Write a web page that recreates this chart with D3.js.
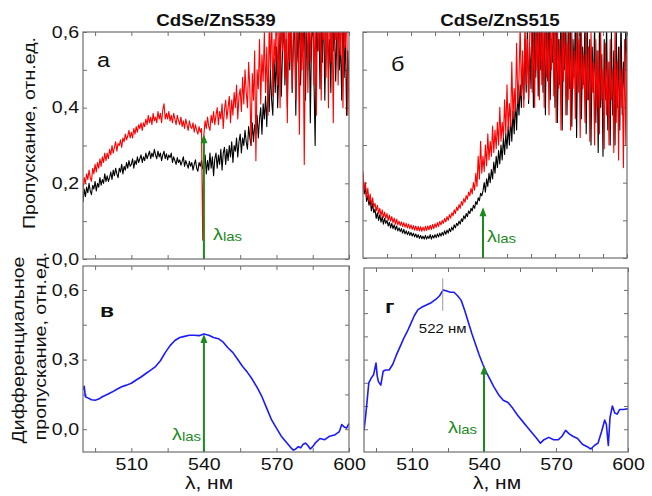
<!DOCTYPE html>
<html>
<head>
<meta charset="utf-8">
<script src="https://cdn.jsdelivr.net/npm/d3@7"></script>
<style>
  body { margin: 0; background: #fff; }
  svg { display: block; }
  text { font-family: "Liberation Sans", Arial, sans-serif; fill: #111; }
</style>
</head>
<body>
<div class="canvas"></div>
<script>
// wavelength grid of the transmission spectra: 490..600 nm, 0.5 nm step
const wavelengths = d3.range(221).map(i => 490 + i * 0.5)

// transmission, CdSe/ZnS539 (panel а); one row = 5 nm
const transA_black = [
  0.15, 0.185, 0.165, 0.19, 0.175, 0.2, 0.18, 0.17, 0.195, 0.185,
  0.205, 0.18, 0.2, 0.19, 0.215, 0.195, 0.21, 0.2, 0.225, 0.205,
  0.22, 0.205, 0.215, 0.23, 0.21, 0.235, 0.22, 0.24, 0.225, 0.215,
  0.24, 0.23, 0.25, 0.225, 0.245, 0.235, 0.255, 0.24, 0.26, 0.245,
  0.25, 0.265, 0.24, 0.26, 0.25, 0.27, 0.255, 0.265, 0.275, 0.255,
  0.27, 0.26, 0.28, 0.265, 0.275, 0.285, 0.265, 0.28, 0.27, 0.29,
  0.275, 0.265, 0.285, 0.27, 0.28, 0.26, 0.275, 0.285, 0.265, 0.278,
  0.262, 0.275, 0.268, 0.28, 0.255, 0.27, 0.26, 0.25, 0.268, 0.255,
  0.262, 0.248, 0.258, 0.27, 0.245, 0.26, 0.25, 0.24, 0.258, 0.245,
  0.255, 0.235, 0.25, 0.262, 0.24, 0.232, 0.255, 0.245, 0.26, 0.238,
  0.25, 0.275, 0.225, 0.26, 0.235, 0.28, 0.24, 0.27, 0.22, 0.265,
  0.28, 0.24, 0.275, 0.25, 0.29, 0.235, 0.28, 0.295, 0.25, 0.29,
  0.26, 0.3, 0.27, 0.31, 0.255, 0.3, 0.285, 0.32, 0.27, 0.31,
  0.33, 0.28, 0.32, 0.3, 0.34, 0.31, 0.29, 0.35, 0.32, 0.3,
  0.36, 0.31, 0.355, 0.33, 0.38, 0.32, 0.37, 0.4, 0.33, 0.41,
  0.37, 0.43, 0.35, 0.46, 0.39, 0.5, 0.42, 0.38, 0.53, 0.44,
  0.56, 0.4, 0.5, 0.6, 0.43, 0.55, 0.64, 0.46, 0.58, 0.4,
  0.62, 0.5, 0.66, 0.44, 0.57, 0.63, 0.38, 0.6, 0.52, 0.67,
  0.46, 0.62, 0.55, 0.68, 0.42, 0.6, 0.5, 0.65, 0.36, 0.58,
  0.64, 0.48, 0.3, 0.6, 0.55, 0.67, 0.45, 0.62, 0.52, 0.69,
  0.42, 0.6, 0.66, 0.5, 0.58, 0.44, 0.68, 0.55, 0.62, 0.47,
  0.6, 0.68, 0.5, 0.57, 0.42, 0.65, 0.48, 0.6, 0.38, 0.55,
  0.45
]
const transA_red = [
  0.18, 0.215, 0.2, 0.225, 0.21, 0.235, 0.215, 0.205, 0.24, 0.225,
  0.25, 0.23, 0.255, 0.24, 0.265, 0.245, 0.27, 0.255, 0.28, 0.26,
  0.28, 0.265, 0.29, 0.275, 0.3, 0.28, 0.295, 0.31, 0.285, 0.305,
  0.3, 0.315, 0.295, 0.32, 0.31, 0.33, 0.315, 0.325, 0.34, 0.32,
  0.335, 0.32, 0.345, 0.33, 0.35, 0.335, 0.355, 0.345, 0.36, 0.34,
  0.36, 0.35, 0.37, 0.355, 0.38, 0.36, 0.375, 0.355, 0.385, 0.365,
  0.375, 0.36, 0.39, 0.37, 0.385, 0.36, 0.395, 0.41, 0.37, 0.385,
  0.37, 0.39, 0.365, 0.38, 0.36, 0.385, 0.37, 0.355, 0.38, 0.365,
  0.355, 0.375, 0.35, 0.365, 0.345, 0.37, 0.355, 0.34, 0.365, 0.35,
  0.345, 0.36, 0.335, 0.355, 0.34, 0.33, 0.35, 0.335, 0.345, 0.05,
  0.33, 0.365, 0.345, 0.375, 0.35, 0.34, 0.38, 0.36, 0.39, 0.355,
  0.38, 0.4, 0.355, 0.39, 0.37, 0.41, 0.345, 0.395, 0.42, 0.37,
  0.4, 0.43, 0.36, 0.42, 0.38, 0.44, 0.4, 0.46, 0.37, 0.43,
  0.45, 0.39, 0.48, 0.41, 0.5, 0.44, 0.4, 0.52, 0.45, 0.3,
  0.49, 0.42, 0.55, 0.26, 0.5, 0.45, 0.58, 0.41, 0.54, 0.47,
  0.6, 0.44, 0.56, 0.38, 0.62, 0.5, 0.66, 0.43, 0.58, 0.52,
  0.68, 0.46, 0.6, 0.4, 0.64, 0.55, 0.7, 0.48, 0.62, 0.36,
  0.66, 0.52, 0.7, 0.45, 0.6, 0.68, 0.42, 0.64, 0.56, 0.33,
  0.7, 0.5, 0.62, 0.25, 0.58, 0.66, 0.44, 0.7, 0.52, 0.62,
  0.72, 0.46, 0.64, 0.38, 0.68, 0.55, 0.7, 0.42, 0.63, 0.58,
  0.7, 0.48, 0.66, 0.4, 0.72, 0.52, 0.64, 0.36, 0.68, 0.58,
  0.7, 0.46, 0.64, 0.54, 0.7, 0.4, 0.62, 0.56, 0.68, 0.38,
  0.5
]

// transmission, CdSe/ZnS515 (panel б)
const transB_black = [
  0.22, 0.17, 0.19, 0.15, 0.165, 0.14, 0.155, 0.125, 0.145, 0.12,
  0.13, 0.105, 0.12, 0.1, 0.115, 0.095, 0.11, 0.09, 0.105, 0.092,
  0.1, 0.085, 0.095, 0.08, 0.092, 0.078, 0.088, 0.075, 0.085, 0.072,
  0.08, 0.07, 0.078, 0.066, 0.076, 0.064, 0.072, 0.062, 0.07, 0.06,
  0.068, 0.058, 0.066, 0.056, 0.064, 0.054, 0.062, 0.052, 0.06, 0.051,
  0.058, 0.05, 0.06, 0.05, 0.058, 0.052, 0.062, 0.05, 0.06, 0.053,
  0.062, 0.054, 0.064, 0.056, 0.066, 0.058, 0.068, 0.06, 0.072, 0.063,
  0.074, 0.066, 0.078, 0.07, 0.082, 0.074, 0.088, 0.08, 0.092, 0.086,
  0.098, 0.09, 0.104, 0.097, 0.112, 0.104, 0.118, 0.11, 0.125, 0.118,
  0.132, 0.125, 0.14, 0.132, 0.15, 0.142, 0.16, 0.152, 0.172, 0.165,
  0.178, 0.2, 0.175, 0.21, 0.19, 0.225, 0.2, 0.235, 0.21, 0.255,
  0.225, 0.27, 0.24, 0.285, 0.25, 0.3, 0.26, 0.32, 0.275, 0.33,
  0.29, 0.35, 0.3, 0.37, 0.31, 0.39, 0.33, 0.42, 0.34, 0.44,
  0.38, 0.46, 0.4, 0.52, 0.42, 0.58, 0.44, 0.62, 0.41, 0.56,
  0.45, 0.66, 0.4, 0.6, 0.48, 0.68, 0.43, 0.62, 0.5, 0.66,
  0.44, 0.6, 0.38, 0.64, 0.47, 0.7, 0.42, 0.58, 0.52, 0.66,
  0.4, 0.62, 0.36, 0.58, 0.46, 0.66, 0.34, 0.6, 0.5, 0.64,
  0.38, 0.62, 0.45, 0.66, 0.35, 0.58, 0.48, 0.64, 0.32, 0.6,
  0.44, 0.62, 0.37, 0.56, 0.46, 0.64, 0.33, 0.6, 0.42, 0.58,
  0.3, 0.56, 0.44, 0.62, 0.36, 0.55, 0.28, 0.6, 0.4, 0.54,
  0.27, 0.58, 0.42, 0.62, 0.34, 0.52, 0.3, 0.6, 0.38, 0.55,
  0.3, 0.62, 0.4, 0.56, 0.34, 0.65, 0.38, 0.52, 0.44, 0.62,
  0.5
]
const transB_red = [
  0.23, 0.18, 0.2, 0.16, 0.185, 0.15, 0.17, 0.14, 0.16, 0.135,
  0.145, 0.125, 0.14, 0.118, 0.132, 0.112, 0.128, 0.108, 0.122, 0.105,
  0.118, 0.1, 0.114, 0.098, 0.11, 0.094, 0.106, 0.09, 0.103, 0.088,
  0.098, 0.086, 0.096, 0.084, 0.094, 0.082, 0.092, 0.08, 0.09, 0.078,
  0.088, 0.076, 0.086, 0.074, 0.085, 0.073, 0.084, 0.072, 0.083, 0.071,
  0.082, 0.072, 0.084, 0.073, 0.085, 0.075, 0.087, 0.076, 0.089, 0.078,
  0.091, 0.081, 0.094, 0.084, 0.097, 0.088, 0.1, 0.092, 0.105, 0.096,
  0.11, 0.1, 0.115, 0.106, 0.12, 0.112, 0.128, 0.118, 0.135, 0.126,
  0.142, 0.132, 0.15, 0.14, 0.158, 0.148, 0.166, 0.156, 0.175, 0.165,
  0.185, 0.17, 0.2, 0.18, 0.225, 0.19, 0.27, 0.21, 0.31, 0.225,
  0.27, 0.23, 0.3, 0.245, 0.33, 0.26, 0.31, 0.27, 0.35, 0.28,
  0.34, 0.29, 0.36, 0.3, 0.4, 0.31, 0.36, 0.32, 0.42, 0.33,
  0.46, 0.34, 0.41, 0.35, 0.52, 0.37, 0.45, 0.39, 0.57, 0.41,
  0.48, 0.62, 0.43, 0.55, 0.4, 0.64, 0.46, 0.58, 0.42, 0.6,
  0.68, 0.44, 0.6, 0.4, 0.66, 0.5, 0.62, 0.42, 0.7, 0.46,
  0.62, 0.4, 0.66, 0.48, 0.6, 0.38, 0.64, 0.5, 0.7, 0.43,
  0.6, 0.36, 0.64, 0.45, 0.58, 0.34, 0.62, 0.47, 0.66, 0.38,
  0.57, 0.42, 0.63, 0.34, 0.6, 0.45, 0.55, 0.37, 0.62, 0.44,
  0.58, 0.32, 0.6, 0.45, 0.54, 0.36, 0.62, 0.42, 0.56, 0.31,
  0.6, 0.44, 0.52, 0.3, 0.58, 0.4, 0.55, 0.33, 0.6, 0.42,
  0.5, 0.29, 0.57, 0.38, 0.52, 0.3, 0.58, 0.42, 0.5, 0.28,
  0.6, 0.36, 0.52, 0.26, 0.56, 0.4, 0.5, 0.24, 0.58, 0.3,
  0.55
]

// differential transmission, panel в
const diffV_wl = [490, 490.5, 491, 492, 493.5, 495, 496.5, 498, 500, 502, 504, 506, 508, 510,
  512, 514, 516, 518, 520, 522, 524, 526, 528, 530, 532, 534, 536, 538, 540, 542, 544, 546,
  548, 550, 552, 554, 556, 558, 560, 562, 564, 566, 568, 570, 572, 574, 576, 577, 578, 579,
  580, 581, 582, 583, 584, 585, 586, 588, 590, 592, 594, 596, 597, 598, 599, 600]
const diffV = [0.17, 0.185, 0.14, 0.135, 0.127, 0.125, 0.13, 0.14, 0.15, 0.16, 0.172, 0.183, 0.19, 0.198,
  0.212, 0.225, 0.24, 0.255, 0.27, 0.295, 0.33, 0.36, 0.382, 0.395, 0.40, 0.405, 0.405, 0.403, 0.41, 0.405, 0.395, 0.39,
  0.375, 0.35, 0.33, 0.30, 0.27, 0.245, 0.215, 0.18, 0.14, 0.09, 0.04, 0.005, -0.03, -0.055, -0.08, -0.09, -0.085, -0.075,
  -0.08, -0.065, -0.06, -0.07, -0.085, -0.075, -0.06, -0.04, -0.045, -0.03, -0.025, -0.01, 0.02, 0.01, 0.005, 0.025]

// differential transmission, panel г
const diffG_wl = [490, 490.5, 491, 492, 493, 494, 495, 495.5, 496, 497, 498, 499, 500.5, 502, 503.5,
  505, 506.5, 508, 509.5, 511, 512.5, 514, 516, 518, 520, 521.5, 523, 524.5, 526, 527.5, 529,
  530.5, 532, 533.5, 535, 536.5, 538, 539.5, 541, 542.5, 544, 546, 548, 550, 552, 554, 556,
  558, 560, 562, 563.5, 565, 567, 569, 571, 572.5, 574, 575.5, 577, 579, 581, 583, 584.5,
  586, 587.5, 589, 590.3, 591, 591.8, 592.5, 593.5, 594.5, 595.5, 596.5, 598, 600]
const diffG = [-0.005, 0.04, 0.09, 0.2, 0.22, 0.235, 0.285, 0.23, 0.205, 0.19, 0.25, 0.255, 0.255, 0.28, 0.32,
  0.355, 0.39, 0.42, 0.455, 0.49, 0.515, 0.525, 0.535, 0.545, 0.56, 0.575, 0.60, 0.595, 0.59, 0.59, 0.575,
  0.555, 0.51, 0.46, 0.41, 0.365, 0.32, 0.28, 0.245, 0.215, 0.185, 0.15, 0.125, 0.115, 0.09, 0.06, 0.035,
  0.01, -0.015, -0.04, -0.06, -0.045, -0.035, -0.045, -0.045, -0.03, -0.005, -0.02, -0.03, -0.04, -0.065, -0.075, -0.085,
  -0.07, -0.06, -0.01, 0.04, 0.02, -0.07, 0.05, 0.1, 0.07, 0.065, 0.085, 0.085, 0.088]

const laserWl = 540
const arrowTips = { a: 0.33, b: 0.135, v: 0.41, g: 0.275 }
const peakWl = 522.8

const topTicks = [0, 0.1, 0.2, 0.3, 0.4, 0.5, 0.6]
const diffTicksV = [0, 0.15, 0.3, 0.45, 0.6]
const diffTicksG = [0, 0.1, 0.2, 0.3, 0.4, 0.5, 0.6]
const wlTicksLeft = [495, 510, 525, 540, 555, 570, 585, 600]
const wlTicksRight = [500, 510, 520, 530, 540, 550, 560, 570, 580, 590, 600]
const wlLabels = [510, 540, 570, 600]

const W = 652, H = 496
const SX = 1.2   // glyphs in the picture are wider than the font
const FS = 16.3
const green = '#1d8a1d'
const frameColor = '#6e6e6e'

const svg = d3.select('.canvas').append('svg')
  .attr('width', W)
  .attr('height', H)

const comma = d => d3.format('.1f')(d).replace('.', ',')

const panels = {
  a: { x0: 83, x1: 349, y0: 32, y1: 259, dom: [0, 0.6] },
  b: { x0: 363, x1: 627, y0: 32, y1: 258, dom: [0, 0.6] },
  v: { x0: 83, x1: 349, y0: 266, y1: 452, dom: [-0.098, 0.703] },
  g: { x0: 364, x1: 628, y0: 268, y1: 452, dom: [-0.098, 0.703] }
}

Object.entries(panels).forEach(([k, p]) => {
  p.x = d3.scaleLinear().domain([490, 600]).range([p.x0, p.x1])
  const ySpan = k === 'g' ? [452, 266] : [p.y1, p.y0]
  p.y = d3.scaleLinear().domain(p.dom).range(ySpan)
  svg.append('clipPath').attr('id', 'clip-' + k)
    .append('rect')
    .attr('x', p.x0).attr('y', p.y0)
    .attr('width', p.x1 - p.x0).attr('height', p.y1 - p.y0)
})

// stretched text helper
const label = (x, y, s, opts = {}) => {
  const t = svg.append('text')
    .attr('transform', `translate(${x},${y})${opts.rotate ? ' rotate(-90)' : ''} scale(${SX},1)`)
    .attr('text-anchor', opts.anchor || 'start')
    .style('font-size', (opts.size || FS) + 'px')
    .style('font-weight', opts.bold ? 'bold' : 'normal')
  if (opts.fill) t.style('fill', opts.fill)
  t.text(s)
  return t
}

const styleAxis = g => {
  g.select('.domain').remove()
  g.selectAll('line').attr('stroke', frameColor)
  g.selectAll('text')
    .style('font-size', FS + 'px')
    .attr('transform', `scale(${SX},1)`)
}

const drawAxes = (k, yTicks, yLabelled, xTicks, xLabelled) => {
  const p = panels[k]
  const fmtY = d => yLabelled ? (yLabelled.includes(d) ? comma(d) : '') : ''
  const fmtX = d => xLabelled ? (xLabelled.includes(d) ? d : '') : ''

  svg.append('g').attr('transform', `translate(${p.x0},0)`)
    .call(d3.axisLeft(p.y).tickValues(yTicks).tickFormat(fmtY)
      .tickSizeInner(-4).tickSizeOuter(0).tickPadding(3.3))
    .call(styleAxis)
  svg.append('g').attr('transform', `translate(${p.x1},0)`)
    .call(d3.axisRight(p.y).tickValues(yTicks).tickFormat('')
      .tickSizeInner(-4).tickSizeOuter(0))
    .call(styleAxis)
  svg.append('g').attr('transform', `translate(0,${p.y1})`)
    .call(d3.axisBottom(p.x).tickValues(xTicks).tickFormat(fmtX)
      .tickSizeInner(-4).tickSizeOuter(0).tickPadding(6.4))
    .call(styleAxis)
  svg.append('g').attr('transform', `translate(0,${p.y0})`)
    .call(d3.axisTop(p.x).tickValues(xTicks).tickFormat('')
      .tickSizeInner(-4).tickSizeOuter(0))
    .call(styleAxis)
}

drawAxes('a', topTicks, [0, 0.2, 0.4, 0.6], wlTicksLeft, null)
drawAxes('b', topTicks, null, wlTicksRight, null)
drawAxes('v', diffTicksV, [0, 0.3, 0.6], wlTicksLeft, wlLabels)
drawAxes('g', diffTicksG, null, wlTicksLeft, wlLabels)

// noisy transmission spectra
const spectrum = (k, values, color, width) => {
  const p = panels[k]
  const line = d3.line()
    .x((d, i) => p.x(wavelengths[i]))
    .y(d => p.y(d))
  svg.append('path')
    .datum(values)
    .attr('clip-path', `url(#clip-${k})`)
    .attr('fill', 'none')
    .attr('stroke', color)
    .attr('stroke-width', width)
    .attr('stroke-linejoin', 'round')
    .attr('d', line)
}

spectrum('a', transA_black, '#000', 1.1)
spectrum('a', transA_red, '#ff0000', 1.1)
spectrum('b', transB_black, '#000', 1.1)
spectrum('b', transB_red, '#ff0000', 1.1)

const diffCurve = (k, wl, values) => {
  const p = panels[k]
  const line = d3.line()
    .x((d, i) => p.x(wl[i]))
    .y(d => p.y(d))
  svg.append('path')
    .datum(values)
    .attr('clip-path', `url(#clip-${k})`)
    .attr('fill', 'none')
    .attr('stroke', '#1a1aff')
    .attr('stroke-width', 1.6)
    .attr('stroke-linejoin', 'round')
    .attr('d', line)
}

diffCurve('v', diffV_wl, diffV)
diffCurve('g', diffG_wl, diffG)

// peak marker, panel г
{
  const p = panels.g
  svg.append('line')
    .attr('x1', p.x(peakWl)).attr('x2', p.x(peakWl))
    .attr('y1', p.y(0.65)).attr('y2', p.y(0.51))
    .attr('stroke', '#9a9a9a').attr('stroke-width', 1)
  label(p.x(peakWl), 333, '522 нм', { anchor: 'middle', size: 12.5 })
}

// laser arrows
const arrow = (k, tip, lx, ly) => {
  const p = panels[k]
  const x = p.x(laserWl)
  const yTip = p.y(tip)
  svg.append('line')
    .attr('x1', x).attr('x2', x)
    .attr('y1', p.y1).attr('y2', yTip + 6)
    .attr('stroke', green).attr('stroke-width', 2)
  svg.append('path')
    .attr('d', `M${x},${yTip} L${x - 3.5},${yTip + 9} L${x + 3.5},${yTip + 9} Z`)
    .attr('fill', green)
  const t = svg.append('text')
    .attr('transform', `translate(${lx},${ly}) scale(${SX},1)`)
    .style('fill', green)
  t.append('tspan').style('font-size', '16.5px').text('λ')
  t.append('tspan').style('font-size', '12.5px').attr('dy', 1).text('las')
}

arrow('a', arrowTips.a, 213, 240)
arrow('b', arrowTips.b, 487, 242)
arrow('v', arrowTips.v, 172, 440)
arrow('g', arrowTips.g, 448, 433)

// frames
Object.values(panels).forEach(p => {
  svg.append('rect')
    .attr('x', p.x0).attr('y', p.y0)
    .attr('width', p.x1 - p.x0).attr('height', p.y1 - p.y0)
    .attr('fill', 'none')
    .attr('stroke', frameColor)
    .attr('stroke-width', 1.2)
})

// titles and labels
label(216, 26, 'CdSe/ZnS539', { anchor: 'middle', bold: true, size: 15.6 })
label(500, 26, 'CdSe/ZnS515', { anchor: 'middle', bold: true, size: 15.6 })

label(97, 67, 'а', { size: 19.5 })
label(391, 71, 'б', { size: 19.5 })
label(100, 317, 'в', { size: 19, bold: true })
label(385, 313, 'г', { size: 19, bold: true })

label(35, 133, 'Пропускание, отн.ед.', { rotate: true, anchor: 'middle' })
label(24, 350, 'Дифференциальное', { rotate: true, anchor: 'middle' })
label(46, 346, 'пропускание, отн.ед.', { rotate: true, anchor: 'middle' })

label(209, 489, 'λ, нм', { anchor: 'middle', size: 17.5 })
label(497, 489, 'λ, нм', { anchor: 'middle', size: 17.5 })
</script>
</body>
</html>
